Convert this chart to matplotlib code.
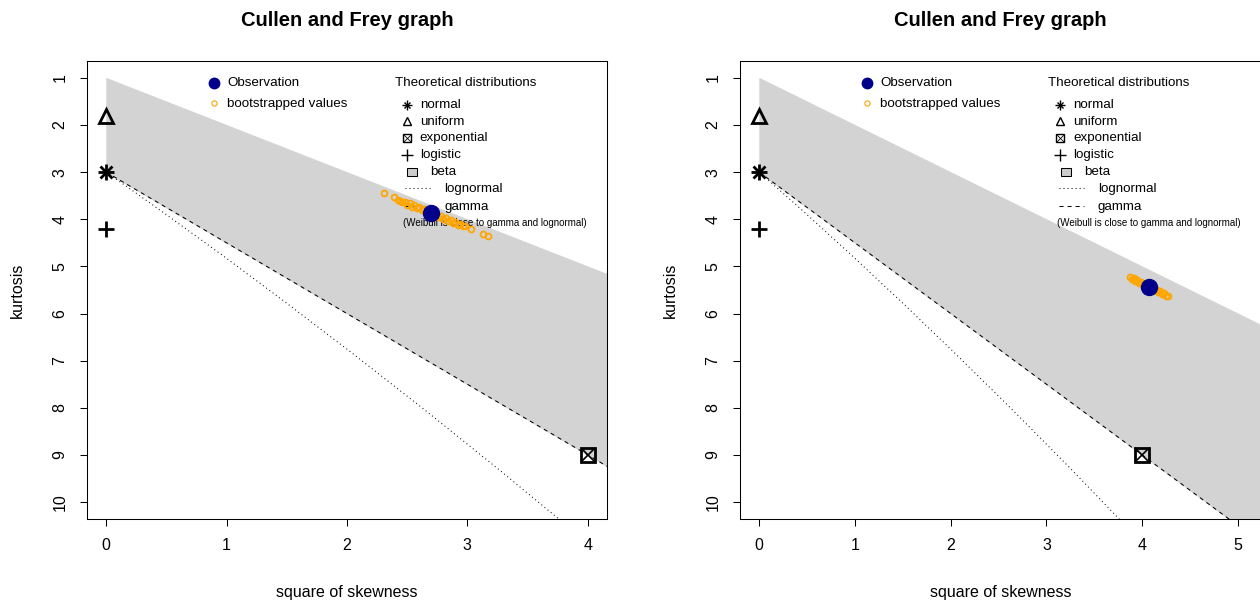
import numpy as np
import matplotlib.pyplot as plt
from matplotlib.patches import Rectangle

plt.rcParams['font.family'] = ['Liberation Sans', 'DejaVu Sans']
plt.rcParams['lines.scale_dashes'] = False

# observed (skewness^2, kurtosis) of the two samples
obs_s2 = [2.70, 4.07]
obs_kurt = [3.86, 5.43]
xmax = [4.0, 5.04]

# bootstrap replicates, first sample
boot1_s2 = [2.31, 2.39, 2.42, 2.44, 2.46, 2.48, 2.50, 2.52, 2.54, 2.56, 2.58,
            2.60, 2.62, 2.64, 2.66, 2.68, 2.72, 2.74, 2.76, 2.78, 2.80, 2.82,
            2.84, 2.86, 2.88, 2.90, 2.92, 2.94, 2.96, 2.98, 3.03, 3.13, 3.17]
boot1_kurt = [3.45, 3.53, 3.58, 3.62, 3.64, 3.63, 3.69, 3.66, 3.73, 3.70, 3.77,
              3.74, 3.81, 3.78, 3.85, 3.82, 3.92, 3.89, 3.96, 3.93, 4.00, 3.97,
              4.04, 4.01, 4.08, 4.05, 4.12, 4.09, 4.15, 4.14, 4.20, 4.31, 4.35]

# bootstrap replicates, second sample
boot2_s2 = [3.87, 3.89, 3.91, 3.93, 3.95, 3.97, 3.99, 4.01, 4.03, 4.05, 4.07,
            4.09, 4.11, 4.13, 4.15, 4.17, 4.19, 4.21, 4.23, 4.25, 4.27]
boot2_kurt = [5.23, 5.27, 5.25, 5.31, 5.29, 5.35, 5.33, 5.39, 5.37, 5.43, 5.41,
              5.47, 5.45, 5.51, 5.49, 5.55, 5.53, 5.59, 5.57, 5.62, 5.62]

# theoretical distributions
normal_pt = (0, 3.0)
uniform_pt = (0, 1.8)
logistic_pt = (0, 4.2)
expo_pt = (4, 9.0)

beta_s2 = [0, 6]
beta_top = [1, 7]
gamma_kurt = [3, 12]
lnorm_s2 = [0, 0.091, 0.182, 0.465, 0.961, 1.488, 2.048, 2.641, 3.267, 3.928, 4.624]
lnorm_kurt = [3, 3.162, 3.326, 3.838, 4.756, 5.758, 6.850, 8.035, 9.321, 10.715, 12.21]

GREY = '#D3D3D3'
DASH = (0, (2.9, 2.9))
DOT = (0, (0.7, 2.2))
ORANGE = '#FFA500'
DARKBLUE = '#00008B'


def asterisk(ax, x, y, size, lw, **kw):
    ax.plot([x], [y], marker='+', ms=size, mew=lw, color='black', ls='none', **kw)
    ax.plot([x], [y], marker='x', ms=size * 0.72, mew=lw, color='black', ls='none', **kw)


def boxed_x(ax, x, y, size, lw, **kw):
    ax.plot([x], [y], marker='s', ms=size, mew=lw, mfc='none', mec='black', ls='none', **kw)
    ax.plot([x], [y], marker='x', ms=size, mew=lw * 0.6, color='black', ls='none', **kw)


def legend_block(ax):
    t = ax.transAxes
    fs = 9.6
    ax.plot([0.244], [0.952], 'o', ms=7.5, color=DARKBLUE, transform=t, clip_on=False, zorder=3)
    ax.text(0.269, 0.952, 'Observation', fontsize=fs, va='center', transform=t, zorder=3)
    ax.plot([0.244], [0.908], 'o', ms=3.8, mfc='none', mec=ORANGE, mew=0.8, transform=t, zorder=3)
    ax.text(0.269, 0.906, 'bootstrapped values', fontsize=fs, va='center', transform=t, zorder=3)

    ax.text(0.592, 0.952, 'Theoretical distributions', fontsize=fs, va='center', transform=t, zorder=3)
    mx, tx = 0.615, 0.640
    asterisk(ax, mx, 0.904, 6.5, 1.0, transform=t, zorder=3)
    ax.text(tx, 0.904, 'normal', fontsize=fs, va='center', transform=t, zorder=3)
    ax.plot([mx], [0.869], marker='^', ms=6.0, mfc='none', mec='black', mew=1.0, transform=t, zorder=3)
    ax.text(tx, 0.867, 'uniform', fontsize=fs, va='center', transform=t, zorder=3)
    boxed_x(ax, mx, 0.832, 5.2, 1.0, transform=t, zorder=3)
    ax.text(tx, 0.832, 'exponential', fontsize=fs, va='center', transform=t, zorder=3)
    ax.plot([mx], [0.795], marker='+', ms=8, mew=1.0, color='black', transform=t, zorder=3)
    ax.text(tx, 0.795, 'logistic', fontsize=fs, va='center', transform=t, zorder=3)
    ax.add_patch(Rectangle((0.616, 0.750), 0.019, 0.017, fc='#CCCCCC', ec='black',
                           lw=0.75, transform=t, zorder=3))
    ax.text(0.660, 0.758, 'beta', fontsize=fs, va='center', transform=t, zorder=3)
    ax.plot([0.612, 0.660], [0.723, 0.723], color='black', lw=0.75, ls=DOT, transform=t, zorder=3)
    ax.text(0.687, 0.721, 'lognormal', fontsize=fs, va='center', transform=t, zorder=3)
    ax.plot([0.612, 0.660], [0.684, 0.684], color='black', lw=0.75, ls=DASH, transform=t, zorder=3)
    ax.text(0.687, 0.682, 'gamma', fontsize=fs, va='center', transform=t, zorder=3)
    ax.text(0.608, 0.646, '(Weibull is close to gamma and lognormal)', fontsize=7.0,
            va='center', transform=t, zorder=3)


def draw_panel(ax, i, boot_s2, boot_kurt, xticks):
    pad = 0.04 * xmax[i]
    ax.set_xlim(-pad, xmax[i] + pad)
    ax.set_ylim(10.36, 0.64)

    ax.fill_between(beta_s2, beta_top, gamma_kurt, color=GREY, lw=0.6, ec=GREY, zorder=1)
    ax.plot(beta_s2, gamma_kurt, color='black', lw=0.75, ls=DASH, zorder=2)
    ax.plot(lnorm_s2, lnorm_kurt, color='black', lw=0.75, ls=DOT, zorder=2)

    legend_block(ax)

    asterisk(ax, *normal_pt, 12, 2.0, zorder=4)
    ax.plot(*uniform_pt, marker='^', ms=10.5, mfc='none', mec='black', mew=2.0, zorder=4)
    ax.plot(*logistic_pt, marker='+', ms=12, mew=2.0, color='black', zorder=4)
    boxed_x(ax, *expo_pt, 9.5, 2.0, zorder=4)

    ax.plot(boot_s2, boot_kurt, 'o', ms=4.2, mfc='none', mec=ORANGE, mew=1.3, zorder=5)
    ax.plot(obs_s2[i], obs_kurt[i], 'o', ms=11.5, color=DARKBLUE, zorder=6)

    ax.set_xticks(xticks)
    ax.set_yticks(range(1, 11))
    ax.tick_params(axis='both', direction='out', length=5, width=0.75, labelsize=11.5,
                   pad=9)
    for lab in ax.get_yticklabels():
        lab.set_rotation(90)
        lab.set_va('center')
    for sp in ax.spines.values():
        sp.set_linewidth(0.75)

    ax.text(0.5, 1.088, 'Cullen and Frey graph', fontsize=14.5, fontweight='bold',
            ha='center', va='center', transform=ax.transAxes)
    ax.text(0.5, -0.16, 'square of skewness', fontsize=11.5, ha='center', va='center',
            transform=ax.transAxes)
    ax.text(-0.133, 0.5, 'kurtosis', fontsize=11.5, ha='center', va='center',
            rotation=90, transform=ax.transAxes)


fig = plt.figure(figsize=(12.6, 6.04), dpi=100)
ax1 = fig.add_axes([87 / 1260, 85 / 604, 520 / 1260, 458 / 604])
ax2 = fig.add_axes([740 / 1260, 85 / 604, 521 / 1260, 458 / 604])

draw_panel(ax1, 0, boot1_s2, boot1_kurt, [0, 1, 2, 3, 4])
draw_panel(ax2, 1, boot2_s2, boot2_kurt, [0, 1, 2, 3, 4, 5])

fig.savefig('out.png', dpi=100)
